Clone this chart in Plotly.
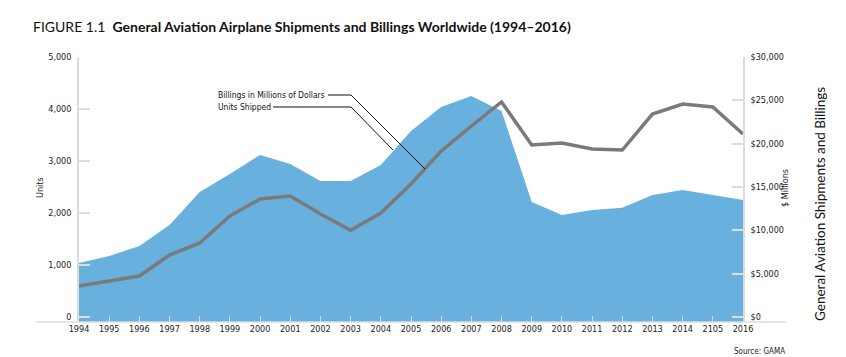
import plotly.graph_objects as go

years = list(range(1994, 2017))
year_labels = ["1994", "1995", "1996", "1997", "1998", "1999", "2000", "2001", "2002",
               "2003", "2004", "2005", "2006", "2007", "2008", "2009", "2010", "2011",
               "2012", "2013", "2014", "2105", "2016"]
units_shipped = [1040, 1175, 1365, 1770, 2405, 2750, 3115, 2940, 2615, 2615, 2925, 3575,
                 4040, 4250, 3960, 2210, 1960, 2060, 2100, 2345, 2440, 2345, 2250]
billings_musd = [3580, 4150, 4730, 7150, 8540, 11650, 13620, 13960, 11880, 10000, 12000,
                 15350, 19150, 22040, 24810, 19850, 20080, 19390, 19270, 23420, 24580,
                 24230, 21110]
units_ticks = [0, 1000, 2000, 3000, 4000, 5000]
billing_ticks = [0, 5000, 10000, 15000, 20000, 25000, 30000]

W, H = 846, 357
L, R, T, B = 71, 735, 49, 314
U_MIN = -96          # axis floor sits a little below zero, as in the reference
B_MIN = U_MIN * 6

def px(x):
    return (x - L) / (R - L)

def py(y):
    return (B - y) / (B - T)

FONT = "Liberation Sans Narrow, DejaVu Sans Condensed, Arial Narrow, sans-serif"
TFONT = "Lato, Open Sans, sans-serif"
AX = "#dcdcdc"
BLUE = "#68B0DE"

fig = go.Figure()
# invisible floor so the area reaches the axis line
fig.add_trace(go.Scatter(
    x=years, y=[U_MIN] * len(years), mode="lines", line=dict(width=0, color=BLUE),
    yaxis="y", hoverinfo="skip", showlegend=False))
fig.add_trace(go.Scatter(
    x=years, y=units_shipped, mode="lines", fill="tonexty",
    line=dict(width=0, color=BLUE), fillcolor=BLUE,
    name="Units Shipped", yaxis="y", hoverinfo="x+y"))
fig.add_trace(go.Scatter(
    x=years, y=billings_musd, mode="lines",
    line=dict(width=3.5, color="#7a7a7a"),
    name="Billings in Millions of Dollars", yaxis="y2", hoverinfo="x+y"))

fig.update_layout(
    width=W, height=H,
    margin=dict(l=L, r=W - R, t=T, b=H - B, pad=0),
    paper_bgcolor="white", plot_bgcolor="white",
    showlegend=False,
    font=dict(family=FONT, size=9, color="#222"),
    title=dict(
        text="FIGURE 1.1  <b>General Aviation Airplane Shipments and Billings Worldwide (1994–2016)</b>",
        x=25 / W, xanchor="left", xref="container",
        y=1 - 19 / H, yanchor="middle", yref="container",
        font=dict(family=TFONT, size=14, color="#111")),
    xaxis=dict(
        range=[1994, 2016], tickmode="array", tickvals=years, ticktext=year_labels,
        showgrid=False, zeroline=False, showline=False,
        ticks="inside", ticklen=6, tickwidth=1.2, tickcolor="#d8d8d8",
        layer="above traces", tickfont=dict(size=9, family=FONT, color="#222")),
    yaxis=dict(
        range=[U_MIN, 5000], tickmode="array", tickvals=units_ticks,
        ticktext=[f"{v:,}" for v in units_ticks], showgrid=False, zeroline=False,
        showline=True, linecolor=AX, linewidth=1.5,
        ticks="inside", ticklen=11, tickwidth=1.5, tickcolor=AX,
        ticklabelstandoff=4, layer="above traces",
        tickfont=dict(size=9, family=FONT, color="#222")),
    yaxis2=dict(
        range=[B_MIN, 30000], overlaying="y", side="right", tickmode="array",
        tickvals=billing_ticks, ticktext=[f"${v:,}" for v in billing_ticks],
        showgrid=False, zeroline=False,
        showline=True, linecolor=AX, linewidth=1.5,
        ticks="inside", ticklen=11, tickwidth=1.5, tickcolor=AX,
        ticklabelstandoff=4, layer="above traces",
        tickfont=dict(size=9, family=FONT, color="#222")),
)

# baseline extending beyond plot area
fig.add_shape(type="line", xref="paper", yref="paper",
              x0=px(28), x1=px(778), y0=0, y1=0,
              line=dict(color=AX, width=1.5), layer="above")

# leader lines
fig.add_shape(type="path", xref="paper", yref="paper",
              path=f"M {px(320)},{py(87)} L {px(343)},{py(87)} L {px(417)},{py(161)}",
              line=dict(color="#111", width=1))
fig.add_shape(type="path", xref="paper", yref="paper",
              path=f"M {px(265)},{py(99)} L {px(343)},{py(99)} L {px(385)},{py(142)}",
              line=dict(color="#111", width=1))

ann = [
    dict(text="Billings in Millions of Dollars", x=px(208), y=py(87),
         xanchor="left", yanchor="middle", font=dict(size=8.5, family=FONT, color="#111")),
    dict(text="Units Shipped", x=px(208), y=py(99),
         xanchor="left", yanchor="middle", font=dict(size=8.5, family=FONT, color="#111")),
    dict(text="Units", x=px(32), y=py(180), textangle=-90,
         xanchor="center", yanchor="middle", font=dict(size=9, family=FONT, color="#222")),
    dict(text="$ Millions", x=px(777), y=py(180), textangle=-90,
         xanchor="center", yanchor="middle", font=dict(size=9, family=FONT, color="#222")),
    dict(text="General Aviation Shipments and Billings", x=px(812), y=py(196), textangle=-90,
         xanchor="center", yanchor="middle", font=dict(size=13.5, family=TFONT, color="#111")),
    dict(text="Source: GAMA", x=px(779), y=py(343),
         xanchor="right", yanchor="middle", font=dict(size=8, family=FONT, color="#222")),
]
for a in ann:
    fig.add_annotation(xref="paper", yref="paper", showarrow=False, **a)

fig.write_html("out.html")
